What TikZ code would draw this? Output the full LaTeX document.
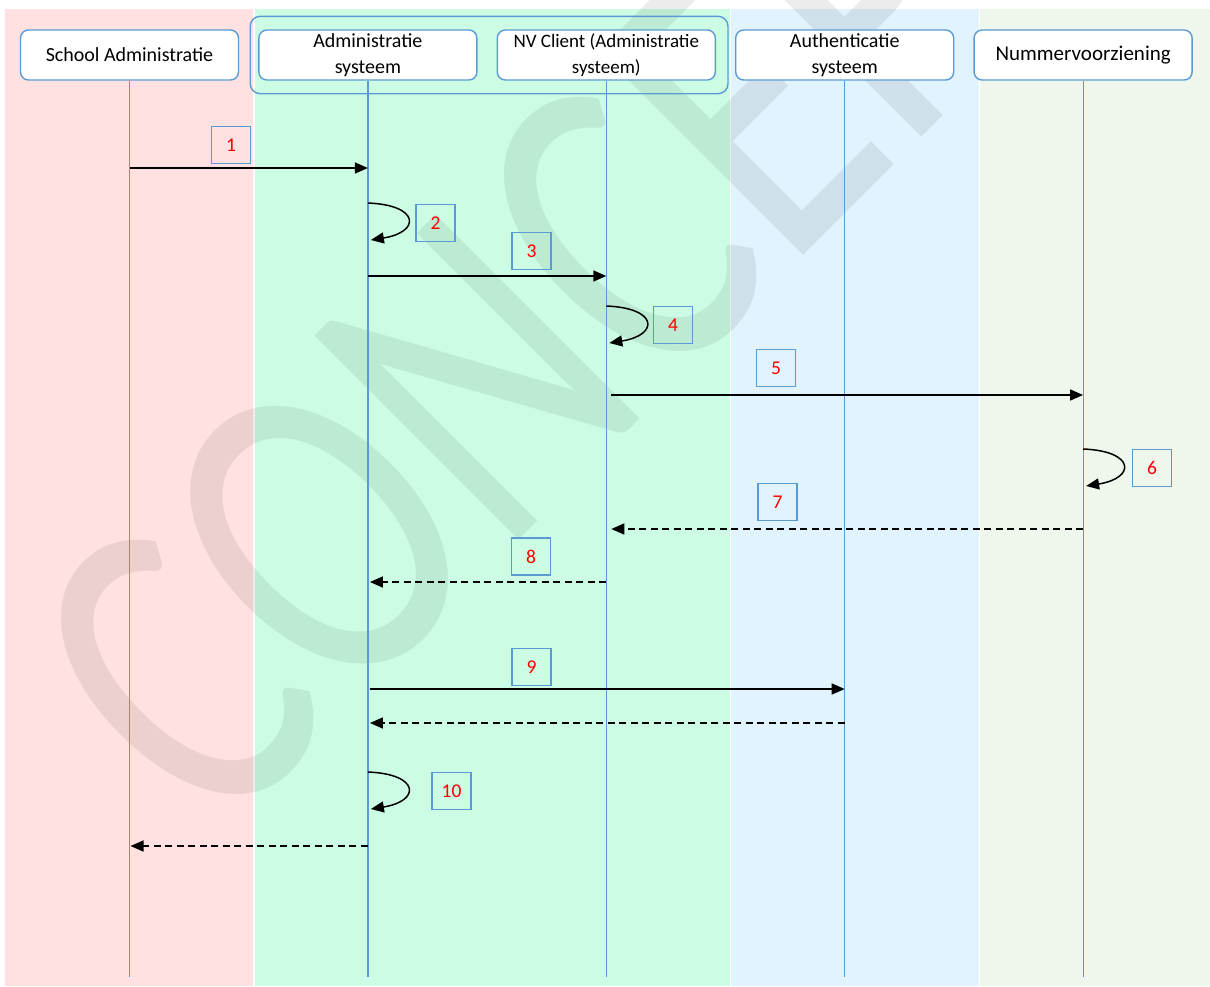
\documentclass[tikz,border=0pt]{standalone}
\usepackage{fontspec}
\setmainfont{Carlito}
\usetikzlibrary{positioning, arrows.meta}
\definecolor{lanered}{RGB}{255,225,225}
\definecolor{lanegreen}{RGB}{204,253,228}
\definecolor{laneblue}{RGB}{225,243,254}
\definecolor{lanelight}{RGB}{239,247,236}
\definecolor{lineblue}{RGB}{91,155,213}

\begin{document}
\begin{tikzpicture}[
            x = 1pt, y = -1pt,
     node distance = 19pt and 19pt,
                 > = {Triangle[length=13pt,width=11pt]},
      actor/.style = {rectangle, rounded corners=8pt, draw=lineblue, line width=1.4pt,
                     fill=white, minimum width=218pt, minimum height=50pt,
                     align=center, inner sep=2pt, font=\fontsize{20}{26}\selectfont},
     numbox/.style = {rectangle, draw=lineblue, line width=1.4pt, text=red,
                     minimum width=39pt, minimum height=37pt, inner sep=0pt,
                     font=\fontsize{19.5}{21}\selectfont},
   lifeline/.style = {draw=lineblue, line width=1.2pt},
        msg/.style = {->, line width=1.5pt},
      reply/.style = {->, line width=1.5pt, dash pattern=on 7pt off 4.5pt}
                        ]
\useasboundingbox (0,0) rectangle (1210,986);
\clip (0,0) rectangle (1210,986);
\fill[lanered]   (5,9)     rectangle (253,986);
\fill[lanegreen] (254.5,9) rectangle (729.5,986);
\fill[laneblue]  (731,9)   rectangle (978.5,986);
\fill[lanelight] (980,9)   rectangle (1210,986);
\node (wm) [anchor=base west, inner sep=0pt, rotate=45, xscale=0.76, text=black,
            text opacity=0.075, font=\fontsize{450}{450}\selectfont] at (214,845) {CONCEPT};

\node (sa) [actor] at (129.5,55) {School Administratie};
\node (as) [actor, right=of sa] {Administratie\\systeem};
\node (nv) [actor, right=of as, font=\fontsize{19}{26}\selectfont] {NV Client (Administratie\\systeem)};
\node (au) [actor, right=of nv] {Authenticatie\\systeem};
\node (nr) [actor, right=of au, font=\fontsize{21}{26}\selectfont] {Nummervoorziening};
\draw[lineblue, line width=1.4pt, rounded corners=10pt]
     ([xshift=-8pt,yshift=13pt]as.north west) rectangle ([xshift=12pt,yshift=-13pt]nv.south east);

\coordinate (bot) at (0,977);
\foreach \n in {sa,as,nv,au,nr}
  \draw[lifeline] (\n) -- (\n |- bot);

\coordinate (m1) at (0,168);
\coordinate (m3) at (0,276);
\coordinate (m5) at (0,395);
\coordinate (m7) at (0,529);
\coordinate (m8) at (0,582);
\coordinate (m9) at (0,689);
\coordinate (r9) at (0,723);
\coordinate (r0) at (0,846);
\coordinate (l2a) at (0,203);
\coordinate (l2b) at (0,240);
\coordinate (l4a) at (0,306);
\coordinate (l4b) at (0,343);
\coordinate (l6a) at (0,449);
\coordinate (l6b) at (0,486);
\coordinate (l0a) at (0,772);
\coordinate (l0b) at (0,809);

\draw[msg] (sa |- m1) -- (as |- m1);
\draw[msg] (as |- l2a) .. controls +(52,2) and +(50,-8) .. ([xshift=3pt]as |- l2b);
\draw[msg] (as |- m3) -- (nv |- m3);
\draw[msg] (nv |- l4a) .. controls +(52,2) and +(50,-8) .. ([xshift=3pt]nv |- l4b);
\draw[msg] ([xshift=5pt]nv |- m5) -- (nr |- m5);
\draw[msg] (nr |- l6a) .. controls +(52,2) and +(50,-8) .. ([xshift=3pt]nr |- l6b);
\draw[reply] (nr |- m7) -- ([xshift=5pt]nv |- m7);
\draw[reply] (nv |- m8) -- ([xshift=2pt]as |- m8);
\draw[msg] ([xshift=2pt]as |- m9) -- (au |- m9);
\draw[reply] (au |- r9) -- ([xshift=2pt]as |- r9);
\draw[msg] (as |- l0a) .. controls +(52,2) and +(50,-8) .. ([xshift=3pt]as |- l0b);
\draw[reply] (as |- r0) -- ([xshift=1pt]sa |- r0);

\node (n1) [numbox] at (231,145) {1};
\node (n2) [numbox] at (435.5,223) {2};
\node (n3) [numbox] at (531.5,251) {3};
\node (n4) [numbox] at (673,325) {4};
\node (n5) [numbox] at (776,368) {5};
\node (n6) [numbox] at (1152,468) {6};
\node (n7) [numbox] at (777.5,502) {7};
\node (n8) [numbox] at (531,556.5) {8};
\node (n9) [numbox] at (531.5,667) {9};
\node (n10) [numbox] at (451.5,791) {10};
\end{tikzpicture}
\end{document}
